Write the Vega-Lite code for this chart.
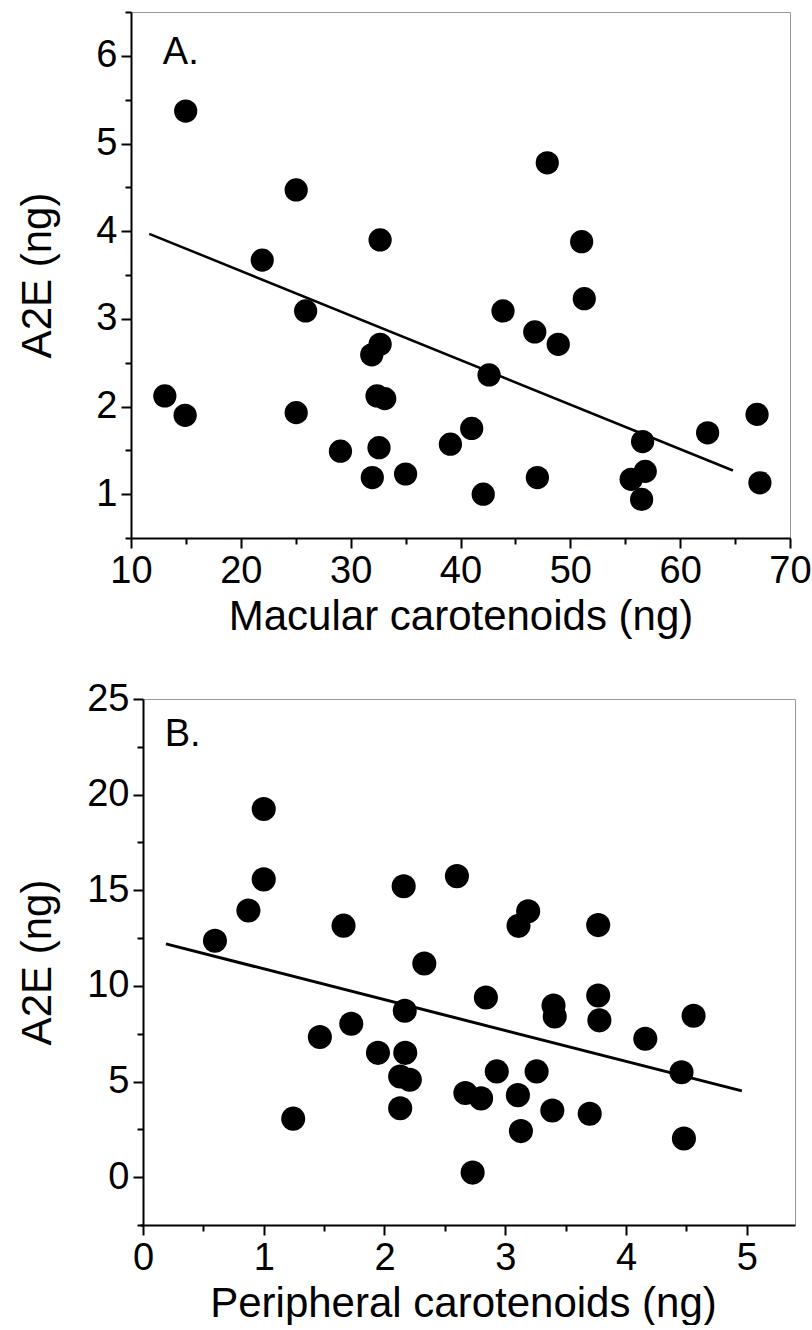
{
  "$schema": "https://vega.github.io/schema/vega-lite/v6.json",
  "background": "white",
  "padding": {"left": 15, "top": 10, "right": 0, "bottom": 0},
  "config": {
    "view": {"stroke": "#999999", "strokeWidth": 1},
    "font": "Liberation Sans",
    "axis": {
      "domainColor": "black", "domainWidth": 2,
      "tickColor": "black", "tickWidth": 2,
      "labelFont": "Liberation Sans", "labelColor": "black",
      "titleFont": "Liberation Sans", "titleFontSize": 42, "titleFontWeight": "normal", "titleColor": "black",
      "grid": false, "labelFlush": false, "labelOverlap": false, "labelPadding": 4, "titlePadding": 6
    }
  },
  "datasets": {
    "macular": [
      {"x": 14.98, "y": 5.37}, {"x": 25.04, "y": 4.47}, {"x": 21.95, "y": 3.67}, {"x": 32.68, "y": 3.9},
      {"x": 47.9, "y": 4.78}, {"x": 51.03, "y": 3.88}, {"x": 51.27, "y": 3.23}, {"x": 25.9, "y": 3.09},
      {"x": 43.87, "y": 3.09}, {"x": 46.76, "y": 2.85}, {"x": 48.9, "y": 2.71}, {"x": 31.92, "y": 2.59},
      {"x": 32.68, "y": 2.71}, {"x": 42.6, "y": 2.36}, {"x": 13.08, "y": 2.12}, {"x": 14.93, "y": 1.9},
      {"x": 25.04, "y": 1.93}, {"x": 32.4, "y": 2.12}, {"x": 33.1, "y": 2.09}, {"x": 29.07, "y": 1.49},
      {"x": 32.58, "y": 1.53}, {"x": 31.97, "y": 1.19}, {"x": 35.0, "y": 1.23}, {"x": 39.08, "y": 1.57},
      {"x": 41.02, "y": 1.75}, {"x": 42.07, "y": 1.0}, {"x": 47.0, "y": 1.19}, {"x": 55.54, "y": 1.17},
      {"x": 56.58, "y": 1.6}, {"x": 56.82, "y": 1.26}, {"x": 56.49, "y": 0.94}, {"x": 62.5, "y": 1.7},
      {"x": 67.0, "y": 1.91}, {"x": 67.26, "y": 1.13}
    ],
    "macLine": [{"x": 11.66, "y": 3.97}, {"x": 64.8, "y": 1.27}],
    "labA": [{"x": 12.9, "y": 6.03, "t": "A."}],
    "peripheral": [
      {"x": 0.596, "y": 12.36}, {"x": 0.873, "y": 13.94}, {"x": 1.0, "y": 19.25}, {"x": 1.0, "y": 15.57},
      {"x": 1.244, "y": 3.06}, {"x": 1.465, "y": 7.33}, {"x": 1.661, "y": 13.15}, {"x": 1.725, "y": 8.02},
      {"x": 1.946, "y": 6.5}, {"x": 2.159, "y": 15.21}, {"x": 2.168, "y": 8.7}, {"x": 2.172, "y": 6.5},
      {"x": 2.13, "y": 5.26}, {"x": 2.21, "y": 5.09}, {"x": 2.13, "y": 3.6}, {"x": 2.33, "y": 11.17},
      {"x": 2.6, "y": 15.74}, {"x": 2.67, "y": 4.4}, {"x": 2.8, "y": 4.12}, {"x": 2.73, "y": 0.24},
      {"x": 2.84, "y": 9.39}, {"x": 2.93, "y": 5.53}, {"x": 3.11, "y": 13.14}, {"x": 3.19, "y": 13.9},
      {"x": 3.105, "y": 4.29}, {"x": 3.13, "y": 2.41}, {"x": 3.26, "y": 5.53}, {"x": 3.39, "y": 3.49},
      {"x": 3.4, "y": 8.98}, {"x": 3.41, "y": 8.4}, {"x": 3.7, "y": 3.32}, {"x": 3.77, "y": 13.18},
      {"x": 3.77, "y": 9.5}, {"x": 3.78, "y": 8.2}, {"x": 4.16, "y": 7.24}, {"x": 4.46, "y": 5.49},
      {"x": 4.48, "y": 2.02}, {"x": 4.56, "y": 8.44}
    ],
    "perLine": [{"x": 0.19, "y": 12.2}, {"x": 4.96, "y": 4.51}],
    "labB": [{"x": 0.18, "y": 23.1, "t": "B."}]
  },
  "concat": [
    {
      "width": 659, "height": 526,
      "encoding": {
        "x": {"field": "x", "type": "quantitative",
          "scale": {"domain": [10, 70], "nice": false, "zero": false},
          "axis": {"title": "Macular carotenoids (ng)",
            "values": [10, 15, 20, 25, 30, 35, 40, 45, 50, 55, 60, 65, 70],
            "labelExpr": "datum.value % 10 === 0 ? format(datum.value, 'd') : ''",
            "labelFontSize": {"condition": {"test": "datum.value % 10 === 0", "value": 38}, "value": 0},
            "tickSize": {"condition": {"test": "datum.value % 10 === 0", "value": 10}, "value": 6}}},
        "y": {"field": "y", "type": "quantitative",
          "scale": {"domain": [0.5, 6.5], "nice": false, "zero": false},
          "axis": {"title": "A2E (ng)",
            "values": [0.5, 1, 1.5, 2, 2.5, 3, 3.5, 4, 4.5, 5, 5.5, 6, 6.5],
            "labelExpr": "datum.value % 1 === 0 ? format(datum.value, 'd') : ''",
            "labelFontSize": {"condition": {"test": "datum.value % 1 === 0", "value": 38}, "value": 0},
            "tickSize": {"condition": {"test": "datum.value % 1 === 0", "value": 10}, "value": 6},
            "titleX": -72}}
      },
      "layer": [
        {"data": {"name": "macLine"}, "mark": {"type": "line", "color": "black", "strokeWidth": 2.5}},
        {"data": {"name": "macular"}, "mark": {"type": "circle", "size": 540, "color": "black", "opacity": 1}},
        {"data": {"name": "labA"}, "mark": {"type": "text", "align": "left", "baseline": "middle", "fontSize": 38, "font": "Liberation Sans", "color": "black"},
          "encoding": {"text": {"field": "t"}}}
      ]
    },
    {
      "width": 664, "height": 526,
      "view": {"stroke": "#999999", "strokeWidth": 1, "strokeDash": [0, 12, 1178, 1190]},
      "encoding": {
        "x": {"field": "x", "type": "quantitative",
          "scale": {"domain": [-0.0993, 5.4], "nice": false, "zero": false},
          "axis": {"title": "Peripheral carotenoids (ng)", "domainDash": [0, 9, 700],
            "values": [0, 0.5, 1, 1.5, 2, 2.5, 3, 3.5, 4, 4.5, 5],
            "labelExpr": "datum.value % 1 === 0 ? format(datum.value, 'd') : ''",
            "labelFontSize": {"condition": {"test": "datum.value % 1 === 0", "value": 38}, "value": 0},
            "tickSize": {"condition": {"test": "datum.value % 1 === 0", "value": 10}, "value": 6}}},
        "y": {"field": "y", "type": "quantitative",
          "scale": {"domain": [-2.5, 25], "nice": false, "zero": false},
          "axis": {"title": "A2E (ng)", "offset": -12,
            "values": [-2.5, 0, 2.5, 5, 7.5, 10, 12.5, 15, 17.5, 20, 22.5, 25],
            "labelExpr": "datum.value % 5 === 0 ? format(datum.value, 'd') : ''",
            "labelFontSize": {"condition": {"test": "datum.value % 5 === 0", "value": 38}, "value": 0},
            "tickSize": {"condition": {"test": "datum.value % 5 === 0", "value": 10}, "value": 6},
            "titleX": -84}}
      },
      "layer": [
        {"data": {"name": "perLine"}, "mark": {"type": "line", "color": "black", "strokeWidth": 3}},
        {"data": {"name": "peripheral"}, "mark": {"type": "circle", "size": 580, "color": "black", "opacity": 1}},
        {"data": {"name": "labB"}, "mark": {"type": "text", "align": "left", "baseline": "middle", "fontSize": 38, "font": "Liberation Sans", "color": "black"},
          "encoding": {"text": {"field": "t"}}}
      ]
    }
  ],
  "columns": 1,
  "spacing": 41
}
